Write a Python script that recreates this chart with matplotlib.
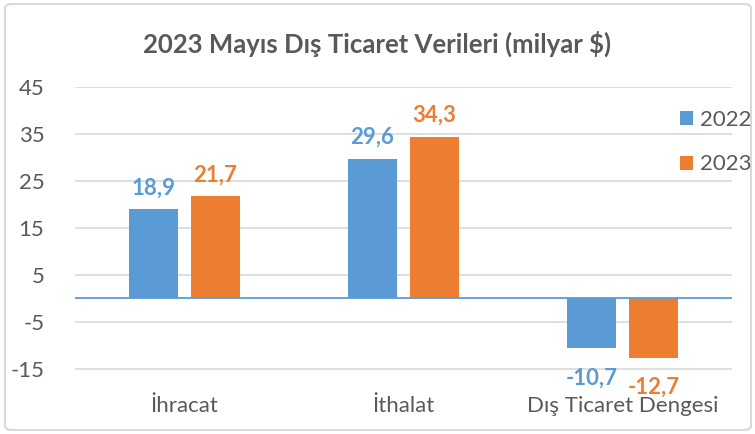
import numpy as np
import matplotlib.pyplot as plt
from matplotlib.patches import FancyBboxPatch

categories = ['İhracat', 'İthalat', 'Dış Ticaret Dengesi']
years = ['2022', '2023']
v2022 = [18.9, 29.6, -10.7]
v2023 = [21.7, 34.3, -12.7]
yticks = [-15, -5, 5, 15, 25, 35, 45]

blue = '#5B9BD5'
orange = '#ED7D31'
grey = '#595959'

plt.rcParams['font.family'] = ['Lato', 'DejaVu Sans']

fig = plt.figure(figsize=(7.55, 4.34), dpi=100)
ax = fig.add_axes([75/755, 1 - 392/434, 657/755, (392-87)/434])

x = np.arange(len(categories))
w = 0.224
off = 0.1415
b1 = ax.bar(x - off, v2022, w, color=blue, label=years[0], zorder=3)
b2 = ax.bar(x + off, v2023, w, color=orange, label=years[1], zorder=3)

ax.set_xlim(-0.5, len(categories) - 0.5)
ax.set_ylim(-20, 45)
ax.set_yticks(yticks)
ax.set_yticklabels([str(t) for t in yticks], fontsize=16, color=grey)
ax.tick_params(axis='y', length=0, pad=22)
ax.set_xticks(x)
ax.set_xticklabels(categories, fontsize=16, color=grey)
ax.tick_params(axis='x', length=0, pad=3)
ax.grid(axis='y', color='#D9D9D9', linewidth=1.2, zorder=0)
ax.axhline(0, color=blue, linewidth=1.3, zorder=4)
for s in ax.spines.values():
    s.set_visible(False)

for bars, vals, col in [(b1, v2022, blue), (b2, v2023, orange)]:
    for r, v in zip(bars, vals):
        lab = ('%.1f' % v).replace('.', ',')
        cx = r.get_x() + r.get_width() / 2
        if v >= 0:
            ax.annotate(lab, (cx, v), xytext=(0, 8), textcoords='offset points',
                        ha='center', va='bottom', fontsize=16, fontweight='bold', color=col)
        else:
            ax.annotate(lab, (cx, v), xytext=(0, -14), textcoords='offset points',
                        ha='center', va='top', fontsize=16, fontweight='bold', color=col, zorder=5)

fig.legend(loc='upper left', bbox_to_anchor=(680/755, 1 - 110/434), frameon=False,
           borderpad=0, borderaxespad=0,
           fontsize=16, labelcolor=grey, handlelength=0.6, handleheight=0.6,
           handletextpad=0.3, labelspacing=1.1)

fig.text(0.5, 1 - 44/434, '2023 Mayıs Dış Ticaret Verileri (milyar $)', ha='center', va='center',
         fontsize=18.5, fontweight='bold', color=grey)

fig.patches.append(FancyBboxPatch((5/755, 4/434), 746/755, 426/434, boxstyle='round,pad=0,rounding_size=0.01',
                                  transform=fig.transFigure, fill=False, edgecolor='#D9D9D9', linewidth=1.5))

plt.savefig('out.png', dpi=100)
